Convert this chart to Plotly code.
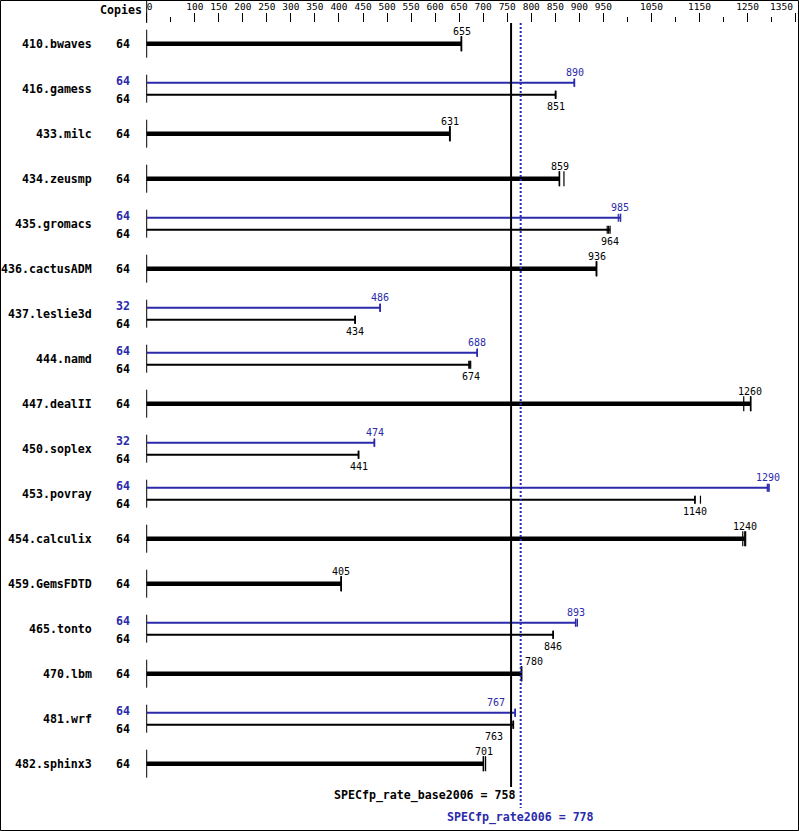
import plotly.graph_objects as go

# ---------------- data ----------------
benchmarks = ["410.bwaves", "416.gamess", "433.milc", "434.zeusmp", "435.gromacs",
              "436.cactusADM", "437.leslie3d", "444.namd", "447.dealII", "450.soplex",
              "453.povray", "454.calculix", "459.GemsFDTD", "465.tonto", "470.lbm",
              "481.wrf", "482.sphinx3"]
base_copies = [64, 64, 64, 64, 64, 64, 64, 64, 64, 64, 64, 64, 64, 64, 64, 64, 64]
base_ratio = [655, 851, 631, 859, 964, 936, 434, 674, 1256, 441, 1141, 1244, 405, 846, 780, 763, 701]
base_runs = [[654, 655, 655], [850, 851, 851], [630, 631, 631], [858, 859, 868],
             [958, 961, 964], [935, 936, 936], [433, 434, 434], [670, 672, 674],
             [1242, 1256, 1257], [440, 441, 441], [1140, 1141, 1152], [1240, 1244, 1246],
             [404, 405, 405], [845, 846, 846], [779, 780, 780], [762, 763, 763],
             [700, 701, 705]]
peak_copies = [None, 64, None, None, 64, None, 32, 64, None, 32, 64, None, None, 64, None, 64, None]
peak_ratio = [None, 890, None, None, 985, None, 486, 688, None, 474, 1293, None, None, 893, None, 767, None]
peak_runs = [None, [889, 890, 890], None, None, [981, 985, 986], None, [485, 486, 486],
             [687, 688, 688], None, [473, 474, 474], [1291, 1293, 1295], None, None,
             [892, 893, 896], None, [766, 767, 767], None]
base_mean = 758
peak_mean = 778
axis_tickvals = [0, 100, 150, 200, 250, 300, 350, 400, 450, 500, 550, 600, 650, 700,
                 750, 800, 850, 900, 950, 1050, 1150, 1250, 1350]
axis_minorvals = [50, 1000, 1100, 1200, 1300]

# ---------------- style / layout ----------------
BLUE = "#2a2aaa"
BLACK = "#000000"
FONT = "DejaVu Sans Mono"
WIDTH, HEIGHT = 799, 831
SCALE = 0.4807          # px per unit
X0PX = 146.7            # px of value 0
L, T, R = 140, 23, 2
W = WIDTH - L - R
H = HEIGHT - T
ROW0, ROWSTEP = 43.7, 45.0
label_anchor = {"470.lbm": ("left", 1), "481.wrf": ("right", -8)}
NB = "\u00a0"

xmin = -(X0PX - L) / SCALE
xmax = xmin + W / SCALE


def pxx(p):
    return (p - L) / W


def pxy(p):
    return 1 - (p - T) / H


def sig3(v):
    return f"{float(f'{v:.3g}'):.0f}"


fig = go.Figure()

thick_x, thick_y = [], []
blue_x, blue_y = [], []
thin_x, thin_y = [], []
tick_b_x, tick_b_y = [], []
tick_p_x, tick_p_y = [], []
axis_x, axis_y = [], []
annotations = []

for i, name in enumerate(benchmarks):
    yc = ROW0 + ROWSTEP * i
    axis_x += [0, 0, None]
    axis_y += [yc - 14, yc + 14, None]
    annotations.append(dict(x=pxx(93.8), xref="paper", y=yc, yref="y", text=name,
                            xanchor="right", yanchor="middle", showarrow=False,
                            font=dict(family=FONT, size=11.6, color=BLACK, weight="bold")))
    anchor, shift = label_anchor.get(name, ("center", 0))
    if peak_ratio[i] is None:
        thick_x += [0, base_ratio[i], None]
        thick_y += [yc, yc, None]
        for r in base_runs[i]:
            tick_b_x += [r, r, None]
            tick_b_y += [yc - 7.5, yc + 7.5, None]
        annotations.append(dict(x=pxx(132), xref="paper", y=yc, yref="y",
                                text=str(base_copies[i]), xanchor="right", yanchor="middle",
                                showarrow=False,
                                font=dict(family=FONT, size=11.6, color=BLACK, weight="bold")))
        annotations.append(dict(x=base_ratio[i], xref="x", y=yc - 12, yref="y",
                                text=sig3(base_ratio[i]), xanchor=anchor, xshift=shift,
                                yanchor="middle", showarrow=False,
                                font=dict(family=FONT, size=10, color=BLACK)))
    else:
        yp, yb = yc - 6, yc + 6
        blue_x += [0, peak_ratio[i], None]
        blue_y += [yp, yp, None]
        thin_x += [0, base_ratio[i], None]
        thin_y += [yb, yb, None]
        for r in peak_runs[i]:
            tick_p_x += [r, r, None]
            tick_p_y += [yp - 4, yp + 4, None]
        for r in base_runs[i]:
            tick_b_x += [r, r, None]
            tick_b_y += [yb - 4, yb + 4, None]
        annotations.append(dict(x=pxx(132), xref="paper", y=yp - 1.5, yref="y",
                                text=str(peak_copies[i]), xanchor="right", yanchor="middle",
                                showarrow=False,
                                font=dict(family=FONT, size=11.6, color=BLUE, weight="bold")))
        annotations.append(dict(x=pxx(132), xref="paper", y=yb + 4.5, yref="y",
                                text=str(base_copies[i]), xanchor="right", yanchor="middle",
                                showarrow=False,
                                font=dict(family=FONT, size=11.6, color=BLACK, weight="bold")))
        annotations.append(dict(x=peak_ratio[i], xref="x", y=yp - 10, yref="y",
                                text=sig3(peak_ratio[i]), xanchor=anchor, xshift=shift,
                                yanchor="middle", showarrow=False,
                                font=dict(family=FONT, size=10, color=BLUE)))
        annotations.append(dict(x=base_ratio[i], xref="x", y=yb + 12, yref="y",
                                text=sig3(base_ratio[i]), xanchor=anchor, xshift=shift,
                                yanchor="middle", showarrow=False,
                                font=dict(family=FONT, size=10, color=BLACK)))


def line_trace(x, y, color, width, dash="solid"):
    return go.Scatter(x=x, y=y, mode="lines", hoverinfo="skip", showlegend=False,
                      line=dict(color=color, width=width, dash=dash))


fig.add_trace(line_trace(axis_x, axis_y, BLACK, 1))
fig.add_trace(line_trace(thick_x, thick_y, BLACK, 4.5))
fig.add_trace(line_trace(thin_x, thin_y, BLACK, 2))
fig.add_trace(line_trace(blue_x, blue_y, BLUE, 2))
fig.add_trace(line_trace(tick_b_x, tick_b_y, BLACK, 1.2))
fig.add_trace(line_trace(tick_p_x, tick_p_y, BLUE, 1.2))
fig.add_trace(line_trace([base_mean, base_mean], [T, 787], BLACK, 2))
fig.add_trace(line_trace([peak_mean, peak_mean], [T, 808], BLUE, 2, dash="2px,2px"))

annotations.append(dict(x=base_mean, xref="x", y=795, yref="y",
                        text=f"SPECfp_rate_base2006 = {base_mean}", xanchor="right", xshift=7,
                        yanchor="middle", showarrow=False,
                        font=dict(family=FONT, size=11.6, color=BLACK, weight="bold")))
annotations.append(dict(x=peak_mean, xref="x", y=817, yref="y",
                        text=f"SPECfp_rate2006 = {peak_mean}", xanchor="center",
                        yanchor="middle", showarrow=False,
                        font=dict(family=FONT, size=11.6, color=BLUE, weight="bold")))
annotations.append(dict(x=pxx(143.5), xref="paper", y=pxy(10), yref="paper",
                        text="Copies", xanchor="right", yanchor="middle", showarrow=False,
                        font=dict(family=FONT, size=11.6, color=BLACK, weight="bold")))
# last top-axis label, kept inside the frame (right-aligned like the reference)
annotations.append(dict(x=axis_tickvals[-1], xref="x", y=pxy(7), yref="paper",
                        text=str(axis_tickvals[-1]), xanchor="right", xshift=-1,
                        yanchor="middle", showarrow=False,
                        font=dict(family=FONT, size=9.5, color=BLACK)))

shapes = [
    dict(type="rect", xref="paper", yref="paper", x0=pxx(0.5), x1=pxx(798.5),
         y0=pxy(0.5), y1=pxy(830.5), line=dict(color=BLACK, width=1), layer="above"),
    dict(type="line", xref="paper", yref="paper", x0=pxx(X0PX), x1=pxx(X0PX),
         y0=pxy(0), y1=pxy(T), line=dict(color=BLACK, width=1)),
]


def tick_label(v):
    if v == axis_tickvals[0]:
        return NB + str(v)
    if v == axis_tickvals[-1]:
        return ""
    return str(v)


ticktext = [tick_label(v) for v in axis_tickvals]

fig.update_layout(
    width=WIDTH, height=HEIGHT,
    margin=dict(l=L, r=R, t=T, b=0, pad=0),
    paper_bgcolor="white", plot_bgcolor="white",
    font=dict(family=FONT, color=BLACK),
    showlegend=False,
    annotations=annotations,
    shapes=shapes,
    xaxis=dict(range=[xmin, xmax], side="top", showgrid=False, zeroline=False,
               showline=False, tickmode="array", tickvals=axis_tickvals, ticktext=ticktext,
               ticks="outside", ticklen=9, tickwidth=1, tickcolor=BLACK,
               tickfont=dict(family=FONT, size=9.5, color=BLACK), tickangle=0,
               ticklabelstandoff=-1,
               minor=dict(tickmode="array", tickvals=axis_minorvals, ticks="outside",
                          ticklen=5, tickwidth=1, tickcolor=BLACK, showgrid=False),
               fixedrange=True),
    yaxis=dict(range=[T + H, T], showgrid=False, zeroline=False, showline=False,
               showticklabels=False, ticks="", fixedrange=True),
)

fig.write_html("out.html", config={"displayModeBar": False},
               post_script="document.body.style.margin='0';document.body.style.overflow='hidden';")
